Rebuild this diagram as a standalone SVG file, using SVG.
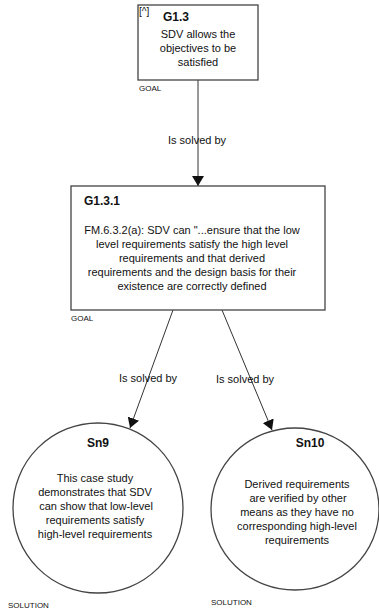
<svg xmlns="http://www.w3.org/2000/svg" width="379" height="611" viewBox="0 0 379 611">
<style>
text{font-family:"Liberation Sans",Arial,sans-serif;fill:#111}
.body{font-size:11px;text-anchor:middle}
.id{font-size:12px;font-weight:bold}
.tag{font-size:8px}
.lbl{font-size:11px;text-anchor:middle}
.shape{fill:#fff;stroke:#444;stroke-width:1.3}
.edge{stroke:#333;stroke-width:1;fill:none;marker-end:url(#arr)}
</style>
<defs>
<marker id="arr" markerWidth="12" markerHeight="12" refX="10" refY="6" orient="auto" markerUnits="userSpaceOnUse">
<path d="M0,0 L10,6 L0,12 Z" fill="#111"/>
</marker>
</defs>
<rect width="379" height="611" fill="#fff"/>
<g id="connectors">
<line class="edge" x1="198" y1="80" x2="198" y2="186"/>
<line class="edge" x1="173" y1="310" x2="130" y2="428"/>
<line class="edge" x1="222" y1="310" x2="272" y2="430"/>
<text class="lbl" x="197" y="144">Is solved by</text>
<text class="lbl" x="148" y="382">Is solved by</text>
<text class="lbl" x="245" y="383">Is solved by</text>
</g>
<g id="G1.3">
<rect class="shape" x="138" y="5" width="120" height="75"/>
<text x="139" y="15" style="font-size:10px">[^]</text>
<text class="id" x="163" y="21">G1.3</text>
<text class="body" x="198" y="38">SDV allows the</text>
<text class="body" x="198" y="52">objectives to be</text>
<text class="body" x="198" y="66">satisfied</text>
<text class="tag" x="139" y="91">GOAL</text>
</g>
<g id="G1.3.1">
<rect class="shape" x="71" y="186" width="254" height="124"/>
<text class="id" x="84" y="205">G1.3.1</text>
<text class="body" x="192" y="234">FM.6.3.2(a): SDV can "...ensure that the low</text>
<text class="body" x="192" y="248">level requirements satisfy the high level</text>
<text class="body" x="192" y="262">requirements and that derived</text>
<text class="body" x="192" y="276">requirements and the design basis for their</text>
<text class="body" x="192" y="290">existence are correctly defined</text>
<text class="tag" x="71" y="321">GOAL</text>
</g>
<g id="Sn9">
<circle class="shape" cx="98" cy="508" r="85"/>
<text class="id" x="98" y="447" text-anchor="middle">Sn9</text>
<text class="body" x="95" y="482">This case study</text>
<text class="body" x="95" y="496">demonstrates that SDV</text>
<text class="body" x="96" y="510">can show that low-level</text>
<text class="body" x="95" y="524">requirements satisfy</text>
<text class="body" x="95" y="538">high-level requirements</text>
<text class="tag" x="8" y="608">SOLUTION</text>
</g>
<g id="Sn10">
<ellipse class="shape" cx="295" cy="509" rx="84" ry="81"/>
<text class="id" x="310" y="447" text-anchor="middle">Sn10</text>
<text class="body" x="297" y="488">Derived requirements</text>
<text class="body" x="298" y="502">are verified by other</text>
<text class="body" x="297" y="516">means as they have no</text>
<text class="body" x="297" y="530">corresponding high-level</text>
<text class="body" x="297" y="544">requirements</text>
<text class="tag" x="211" y="605">SOLUTION</text>
</g>
</svg>
